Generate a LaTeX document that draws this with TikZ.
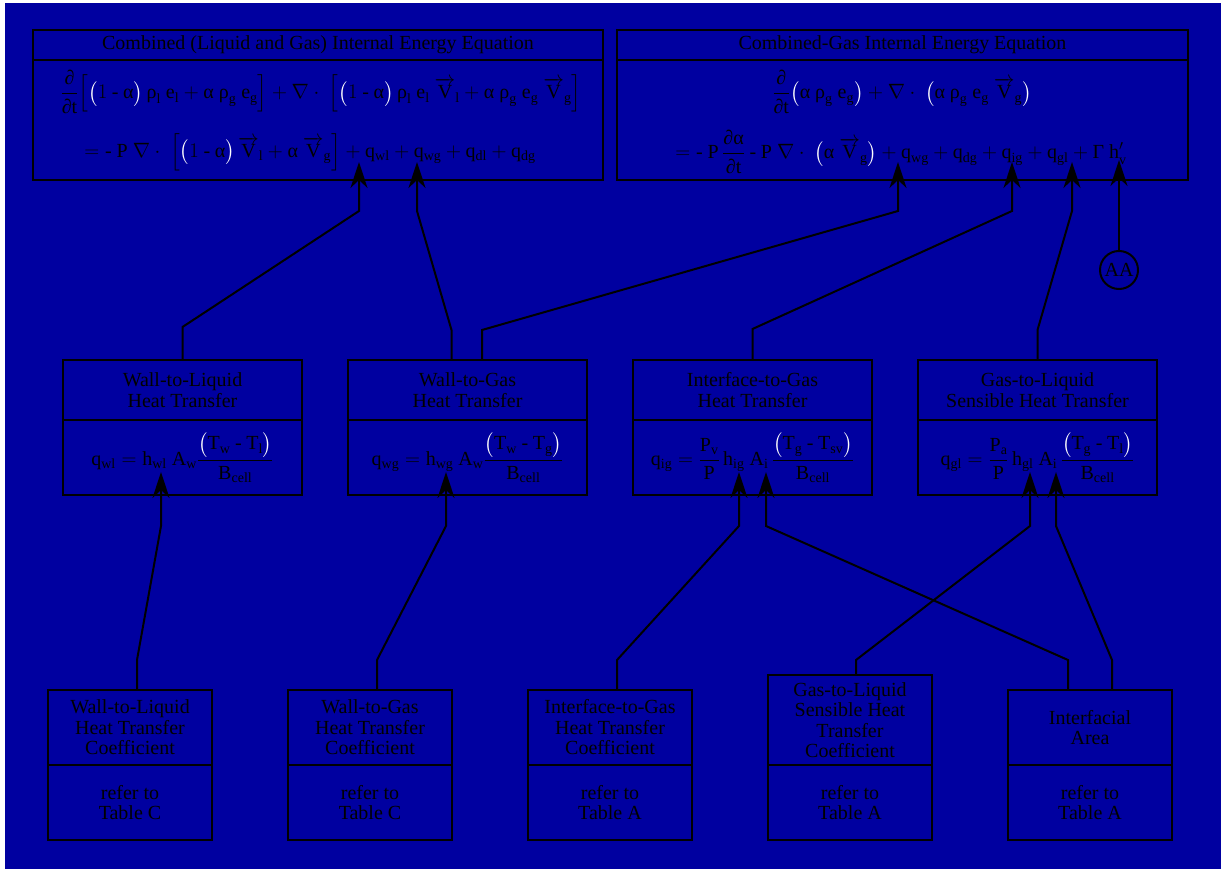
\documentclass[tikz,border=0pt]{standalone}
\usepackage{amsmath}
\usepackage{fontspec}
\setmainfont{Liberation Serif}
\usetikzlibrary{arrows.meta,positioning}

\DeclareMathSizes{20}{20}{14}{11}
\definecolor{panel}{RGB}{0,0,160}
\newcommand{\idx}[2]{\mathrm{#1}_{\mathrm{#2}}}
\newcommand{\gr}[1]{\text{#1}}
\newcommand{\rhoo}[1]{\gr{ρ}_{\mathrm{#1}}}
\newcommand{\hyph}{\mathbin{\text{-}}}
\newcommand{\wlp}{\textcolor{white}{\bigl(}}
\newcommand{\wrp}{\textcolor{white}{\bigr)}}
\newcommand{\vecV}[1]{\overrightarrow{\mathrm{V}}_{\mathrm{#1}}}
\newcommand{\ddt}{\frac{\gr{∂}}{\gr{∂}\mathrm{t}}}

\begin{document}
\begin{tikzpicture}[x=1pt,y=-1pt,
    font=\fontsize{20}{20.5}\selectfont,
    part/.style={draw, line width=2pt, inner sep=0pt, outer sep=0pt, align=center},
    conn/.style={line width=2pt, -{Stealth[length=26pt,width=17pt,inset=8pt]}}]
    \useasboundingbox (0,0) rectangle (1221,869);
    \fill[white] (0,0) rectangle (1221,869);
    \fill[panel] (5,3) rectangle (1221,869);

    \node[part, minimum width=570, minimum height=30] (leh) at (318,45) {Combined (Liquid and Gas) Internal Energy Equation};
    \node[part, minimum width=570, minimum height=120, below=0pt of leh] (leb) {};
    \node (le1) at (321,92) {$\displaystyle \ddt\Bigl[\wlp 1 \hyph \gr{α}\wrp\,\rhoo{l}\ \idx{e}{l} + \gr{α}\ \rhoo{g}\ \idx{e}{g}\Bigr] + \nabla\cdot\ \Bigl[\wlp 1 \hyph \gr{α}\wrp\,\rhoo{l}\ \idx{e}{l}\ \vecV{l} + \gr{α}\ \rhoo{g}\ \idx{e}{g}\ \vecV{g}\Bigr]$};
    \node (le2) at (310,152) {$\displaystyle = \hyph\ \mathrm{P}\ \nabla\cdot\ \Bigl[\wlp 1 \hyph \gr{α}\wrp\,\vecV{l} + \gr{α}\ \vecV{g}\Bigr] + \idx{q}{wl} + \idx{q}{wg} + \idx{q}{dl} + \idx{q}{dg}$};

    \node[part, minimum width=571, minimum height=30] (geh) at (902.5,45) {Combined-Gas Internal Energy Equation};
    \node[part, minimum width=571, minimum height=120, below=0pt of geh] (geb) {};
    \node (ge1) at (902,92) {$\displaystyle \ddt\wlp\gr{α}\ \rhoo{g}\ \idx{e}{g}\wrp + \nabla\cdot\ \wlp\gr{α}\ \rhoo{g}\ \idx{e}{g}\ \vecV{g}\wrp$};
    \node (ge2) at (901,152) {$\displaystyle = \hyph\ \mathrm{P}\,\frac{\gr{∂}\gr{α}}{\gr{∂}\mathrm{t}} \hyph \mathrm{P}\ \nabla\cdot\ \wlp\gr{α}\ \vecV{g}\wrp + \idx{q}{wg} + \idx{q}{dg} + \idx{q}{ig} + \idx{q}{gl} + \gr{Γ}\ \mathrm{h}^{\prime}_{\mathrm{v}}$};

    \node[part, minimum width=239, minimum height=60] (wlht) at (182.5,390) {Wall-to-Liquid\\Heat Transfer};
    \node[part, minimum width=239, minimum height=75, below=0pt of wlht] (wlhtb) {$\displaystyle \idx{q}{wl} = \idx{h}{wl}\ \idx{A}{w}\frac{\wlp\idx{T}{w} \hyph \idx{T}{l}\wrp}{\idx{B}{cell}}$};
    \node[part, minimum width=239, minimum height=60] (wght) at (467.5,390) {Wall-to-Gas\\Heat Transfer};
    \node[part, minimum width=239, minimum height=75, below=0pt of wght] (wghtb) {$\displaystyle \idx{q}{wg} = \idx{h}{wg}\ \idx{A}{w}\frac{\wlp\idx{T}{w} \hyph \idx{T}{g}\wrp}{\idx{B}{cell}}$};
    \node[part, minimum width=239, minimum height=60] (ight) at (752.5,390) {Interface-to-Gas\\Heat Transfer};
    \node[part, minimum width=239, minimum height=75, below=0pt of ight] (ightb) {$\displaystyle \idx{q}{ig} = \frac{\idx{P}{v}}{\mathrm{P}}\,\idx{h}{ig}\ \idx{A}{i}\,\frac{\wlp\idx{T}{g} \hyph \idx{T}{sv}\wrp}{\idx{B}{cell}}$};
    \node[part, minimum width=239, minimum height=60] (glht) at (1037.5,390) {Gas-to-Liquid\\Sensible Heat Transfer};
    \node[part, minimum width=239, minimum height=75, below=0pt of glht] (glhtb) {$\displaystyle \idx{q}{gl} = \frac{\idx{P}{a}}{\mathrm{P}}\,\idx{h}{gl}\ \idx{A}{i}\,\frac{\wlp\idx{T}{g} \hyph \idx{T}{l}\wrp}{\idx{B}{cell}}$};

    \node[part, minimum width=164, minimum height=75] (wlhcb) at (130,802.5) {refer to\\Table C};
    \node[part, minimum width=164, minimum height=75, above=0pt of wlhcb] (wlhc) {Wall-to-Liquid\\Heat Transfer\\Coefficient};
    \node[part, minimum width=164, minimum height=75] (wghcb) at (370,802.5) {refer to\\Table C};
    \node[part, minimum width=164, minimum height=75, above=0pt of wghcb] (wghc) {Wall-to-Gas\\Heat Transfer\\Coefficient};
    \node[part, minimum width=164, minimum height=75] (ighcb) at (610,802.5) {refer to\\Table A};
    \node[part, minimum width=164, minimum height=75, above=0pt of ighcb] (ighc) {Interface-to-Gas\\Heat Transfer\\Coefficient};
    \node[part, minimum width=164, minimum height=75] (glhcb) at (850,802.5) {refer to\\Table A};
    \node[part, minimum width=164, minimum height=90, above=0pt of glhcb] (glhc) {Gas-to-Liquid\\Sensible Heat\\Transfer\\Coefficient};
    \node[part, minimum width=164, minimum height=75] (iacb) at (1090,802.5) {refer to\\Table A};
    \node[part, minimum width=164, minimum height=75, above=0pt of iacb] (iac) {Interfacial\\Area};

    \node[draw, circle, line width=2pt, minimum size=38, inner sep=0pt] (aa) at (1119,270) {AA};

    \coordinate (qwl) at (359,162);
    \coordinate (qwg) at (417,162);
    \coordinate (qwgr) at (898,162);
    \coordinate (qig) at (1012,162);
    \coordinate (qgl) at (1072,162);
    \coordinate (gam) at (1119,160);
    \coordinate (hwl) at (161,472);
    \coordinate (hwg) at (446,472);
    \coordinate (hig) at (739,472);
    \coordinate (aig) at (766,472);
    \coordinate (hgl) at (1030,472);
    \coordinate (agl) at (1056,472);

    \draw[conn] (wlht.north) -- ++(0,-33) -- ([yshift=-49pt]qwl) -- (qwl);
    \draw[conn] ([xshift=-16pt]wght.north) -- ++(0,-30) -- ([yshift=-49pt]qwg) -- (qwg);
    \draw[conn] ([xshift=14.5pt]wght.north) -- ++(0,-30) -- ([yshift=-49pt]qwgr) -- (qwgr);
    \draw[conn] (ight.north) -- ++(0,-31) -- ([yshift=-49pt]qig) -- (qig);
    \draw[conn] (glht.north) -- ++(0,-30) -- ([yshift=-49pt]qgl) -- (qgl);
    \draw[conn] (aa.north) -- (gam);
    \draw[conn] ([xshift=7pt]wlhc.north) -- ++(0,-30) -- ([yshift=-54pt]hwl) -- (hwl);
    \draw[conn] ([xshift=7pt]wghc.north) -- ++(0,-30) -- ([yshift=-54pt]hwg) -- (hwg);
    \draw[conn] ([xshift=7pt]ighc.north) -- ++(0,-30) -- ([yshift=-54pt]hig) -- (hig);
    \draw[conn] ([xshift=-22pt]iac.north) -- ++(0,-30) -- ([yshift=-54pt]aig) -- (aig);
    \draw[conn] ([xshift=6pt]glhc.north) -- ++(0,-15) -- ([yshift=-54pt]hgl) -- (hgl);
    \draw[conn] ([xshift=22pt]iac.north) -- ++(0,-30) -- ([yshift=-54pt]agl) -- (agl);
\end{tikzpicture}
\end{document}
